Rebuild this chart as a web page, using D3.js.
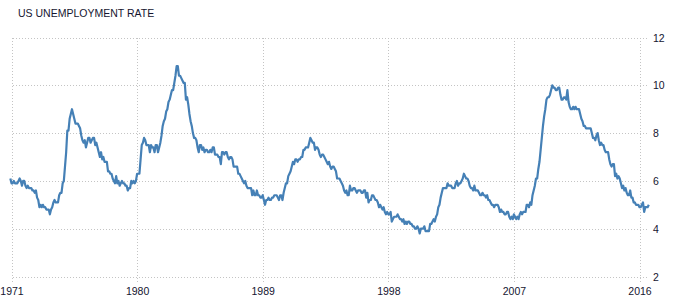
<!DOCTYPE html>
<html>
<head>
<meta charset="utf-8">
<script src="https://d3js.org/d3.v7.min.js"></script>
<style>
  body { margin: 0; background: #fff; }
  svg { display: block; }
  .grid line { stroke: #c4c4c4; stroke-dasharray: 1,2; shape-rendering: crispEdges; }
  .grid path { display: none; }
  .lbl { font-family: "Liberation Sans", Arial, sans-serif; font-size: 10.5px; fill: #151530; }
</style>
</head>
<body>
<svg id="chart" width="677" height="306"></svg>
<script>
var title = "US UNEMPLOYMENT RATE";
var xTicks = [1971, 1980, 1989, 1998, 2007, 2016];
var yTicks = [2, 4, 6, 8, 10, 12];

// monthly rate, first value is Dec 1970
var startYear = 1970 + 11 / 12;
var rate1970 = [6.1];
var rate1971 = [5.9, 5.9, 6.0, 5.9, 5.9, 5.9, 6.0, 6.1, 6.0, 5.8, 6.0, 6.0];
var rate1972 = [5.8, 5.7, 5.8, 5.7, 5.7, 5.7, 5.6, 5.6, 5.5, 5.6, 5.3, 5.2];
var rate1973 = [4.9, 5.0, 4.9, 5.0, 4.9, 4.9, 4.8, 4.8, 4.8, 4.6, 4.8, 4.9];
var rate1974 = [5.1, 5.2, 5.1, 5.1, 5.1, 5.4, 5.5, 5.5, 5.9, 6.0, 6.6, 7.2];
var rate1975 = [8.1, 8.1, 8.6, 8.8, 9.0, 8.8, 8.6, 8.4, 8.4, 8.4, 8.3, 8.2];
var rate1976 = [7.9, 7.7, 7.6, 7.7, 7.4, 7.6, 7.8, 7.8, 7.6, 7.7, 7.8, 7.8];
var rate1977 = [7.5, 7.6, 7.4, 7.2, 7.0, 7.2, 6.9, 7.0, 6.8, 6.8, 6.8, 6.4];
var rate1978 = [6.4, 6.3, 6.3, 6.1, 6.0, 5.9, 6.2, 5.9, 6.0, 5.8, 5.9, 6.0];
var rate1979 = [5.9, 5.9, 5.8, 5.8, 5.6, 5.7, 5.7, 6.0, 5.9, 6.0, 5.9, 6.0];
var rate1980 = [6.3, 6.3, 6.3, 6.9, 7.5, 7.6, 7.8, 7.7, 7.5, 7.5, 7.5, 7.2];
var rate1981 = [7.5, 7.4, 7.4, 7.2, 7.5, 7.5, 7.2, 7.4, 7.6, 7.9, 8.3, 8.5];
var rate1982 = [8.6, 8.9, 9.0, 9.3, 9.4, 9.6, 9.8, 9.8, 10.1, 10.4, 10.8, 10.8];
var rate1983 = [10.4, 10.4, 10.3, 10.2, 10.1, 10.1, 9.4, 9.5, 9.2, 8.8, 8.5, 8.3];
var rate1984 = [8.0, 7.8, 7.8, 7.7, 7.4, 7.2, 7.5, 7.5, 7.3, 7.4, 7.2, 7.3];
var rate1985 = [7.3, 7.2, 7.2, 7.3, 7.2, 7.4, 7.4, 7.1, 7.1, 7.1, 7.0, 7.0];
var rate1986 = [6.7, 7.2, 7.2, 7.1, 7.2, 7.2, 7.0, 6.9, 7.0, 7.0, 6.9, 6.6];
var rate1987 = [6.6, 6.6, 6.6, 6.3, 6.3, 6.2, 6.1, 6.0, 5.9, 6.0, 5.8, 5.7];
var rate1988 = [5.7, 5.7, 5.7, 5.4, 5.6, 5.4, 5.4, 5.6, 5.4, 5.4, 5.3, 5.3];
var rate1989 = [5.4, 5.2, 5.0, 5.2, 5.2, 5.3, 5.2, 5.2, 5.3, 5.3, 5.4, 5.4];
var rate1990 = [5.4, 5.3, 5.2, 5.4, 5.4, 5.2, 5.5, 5.7, 5.9, 5.9, 6.2, 6.3];
var rate1991 = [6.4, 6.6, 6.8, 6.7, 6.9, 6.9, 6.8, 6.9, 6.9, 7.0, 7.0, 7.3];
var rate1992 = [7.3, 7.4, 7.4, 7.4, 7.6, 7.8, 7.7, 7.6, 7.6, 7.3, 7.4, 7.4];
var rate1993 = [7.3, 7.1, 7.0, 7.1, 7.1, 7.0, 6.9, 6.8, 6.7, 6.8, 6.6, 6.5];
var rate1994 = [6.6, 6.6, 6.5, 6.4, 6.1, 6.1, 6.1, 6.0, 5.9, 5.8, 5.6, 5.5];
var rate1995 = [5.6, 5.4, 5.4, 5.8, 5.6, 5.6, 5.7, 5.7, 5.6, 5.5, 5.6, 5.6];
var rate1996 = [5.6, 5.5, 5.5, 5.6, 5.6, 5.3, 5.5, 5.1, 5.2, 5.2, 5.4, 5.4];
var rate1997 = [5.3, 5.2, 5.2, 5.1, 4.9, 5.0, 4.9, 4.8, 4.9, 4.7, 4.6, 4.7];
var rate1998 = [4.6, 4.6, 4.7, 4.3, 4.4, 4.5, 4.5, 4.5, 4.6, 4.5, 4.4, 4.4];
var rate1999 = [4.3, 4.4, 4.2, 4.3, 4.2, 4.3, 4.3, 4.2, 4.2, 4.1, 4.1, 4.0];
var rate2000 = [4.0, 4.1, 4.0, 3.8, 4.0, 4.0, 4.0, 4.1, 3.9, 3.9, 3.9, 3.9];
var rate2001 = [4.2, 4.2, 4.3, 4.4, 4.3, 4.5, 4.6, 4.9, 5.0, 5.3, 5.5, 5.7];
var rate2002 = [5.7, 5.7, 5.7, 5.9, 5.8, 5.8, 5.8, 5.7, 5.7, 5.7, 5.9, 6.0];
var rate2003 = [5.8, 5.9, 5.9, 6.0, 6.1, 6.3, 6.2, 6.1, 6.1, 6.0, 5.8, 5.7];
var rate2004 = [5.7, 5.6, 5.8, 5.6, 5.6, 5.6, 5.5, 5.4, 5.4, 5.5, 5.4, 5.4];
var rate2005 = [5.3, 5.4, 5.2, 5.2, 5.1, 5.0, 5.0, 4.9, 5.0, 5.0, 5.0, 4.9];
var rate2006 = [4.7, 4.8, 4.7, 4.7, 4.6, 4.6, 4.7, 4.7, 4.5, 4.4, 4.5, 4.4];
var rate2007 = [4.6, 4.5, 4.4, 4.5, 4.4, 4.6, 4.7, 4.6, 4.7, 4.7, 4.7, 5.0];
var rate2008 = [5.0, 4.9, 5.1, 5.0, 5.4, 5.6, 5.8, 6.1, 6.1, 6.5, 6.8, 7.3];
var rate2009 = [7.8, 8.3, 8.7, 9.0, 9.4, 9.5, 9.5, 9.6, 9.8, 10.0, 9.9, 9.9];
var rate2010 = [9.8, 9.8, 9.9, 9.9, 9.6, 9.4, 9.4, 9.5, 9.5, 9.4, 9.8, 9.3];
var rate2011 = [9.1, 9.0, 9.0, 9.1, 9.0, 9.1, 9.0, 9.0, 9.0, 8.8, 8.6, 8.5];
var rate2012 = [8.3, 8.3, 8.2, 8.2, 8.2, 8.2, 8.2, 8.0, 7.8, 7.8, 7.7, 7.9];
var rate2013 = [8.0, 7.7, 7.5, 7.6, 7.5, 7.5, 7.3, 7.2, 7.2, 7.2, 6.9, 6.7];
var rate2014 = [6.6, 6.7, 6.7, 6.2, 6.3, 6.1, 6.2, 6.1, 5.9, 5.7, 5.8, 5.6];
var rate2015 = [5.7, 5.5, 5.4, 5.4, 5.6, 5.3, 5.3, 5.1, 5.1, 5.0, 5.0, 5.0];
var rate2016 = [4.9, 4.9, 5.0, 5.1, 4.7, 4.9, 4.9, 4.9, 5.0];

var rates = [].concat(rate1970, rate1971, rate1972, rate1973, rate1974, rate1975,
  rate1976, rate1977, rate1978, rate1979, rate1980, rate1981, rate1982, rate1983,
  rate1984, rate1985, rate1986, rate1987, rate1988, rate1989, rate1990, rate1991,
  rate1992, rate1993, rate1994, rate1995, rate1996, rate1997, rate1998, rate1999,
  rate2000, rate2001, rate2002, rate2003, rate2004, rate2005, rate2006, rate2007,
  rate2008, rate2009, rate2010, rate2011, rate2012, rate2013, rate2014, rate2015,
  rate2016);

var data = rates.map(function(v, i) { return { t: startYear + i / 12, v: v }; });

var svg = d3.select('#chart');

var x = d3.scaleLinear().domain([1971, 2016]).range([11.5, 639.5]);
var y = d3.scaleLinear().domain([2, 12]).range([276.5, 37.5]);

svg.append('text')
  .attr('class', 'lbl')
  .attr('x', 18)
  .attr('y', 17)
  .style('font-size', '10.5px')
  .text(title);

// horizontal grid + right labels
var gy = svg.append('g')
  .attr('class', 'grid')
  .attr('transform', 'translate(647,0)')
  .call(d3.axisRight(y).tickValues(yTicks).tickSize(-635.5).tickPadding(6).tickFormat(d3.format('d')));
gy.selectAll('text').attr('class', 'lbl').style('text-anchor', 'start').attr('dy', '0.35em').attr('x', 6);

// vertical grid + bottom labels
var gx = svg.append('g')
  .attr('class', 'grid')
  .attr('transform', 'translate(0,282)')
  .call(d3.axisBottom(x).tickValues(xTicks).tickSize(-244.5).tickPadding(4).tickFormat(d3.format('d')));
gx.selectAll('text').attr('class', 'lbl').attr('y', 6).attr('dy', '0.71em');

var line = d3.line()
  .x(function(d) { return x(d.t); })
  .y(function(d) { return y(d.v); });

svg.append('path')
  .datum(data)
  .attr('fill', 'none')
  .attr('stroke', '#4580b6')
  .attr('stroke-width', 2.2)
  .attr('stroke-linejoin', 'round')
  .attr('d', line);
</script>
</body>
</html>
